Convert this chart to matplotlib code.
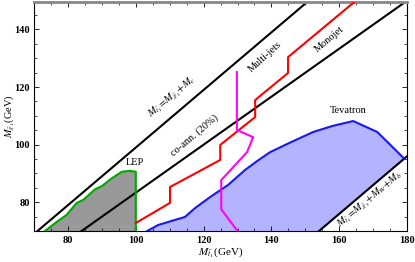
import numpy as np
import matplotlib.pyplot as plt
from matplotlib.ticker import MultipleLocator

plt.rcParams['font.family'] = 'Liberation Serif'
plt.rcParams['mathtext.fontset'] = 'stix'

# LEP excluded region (upper boundary)
lep_x = [73.2, 76.7, 79.6, 82.6, 84.5, 88.0, 90.0, 92.9, 95.9, 98.3, 100.0, 100.0]
lep_y = [70.0, 73.2, 75.6, 79.8, 80.8, 84.5, 85.6, 88.3, 90.6, 90.9, 90.6, 70.0]

# Tevatron boundary
tev_x = [103.3, 106.6, 110.5, 114.5, 117.5, 121.9, 127.2, 132.2, 136.0, 139.6, 146.0, 152.3, 158.0, 164.1, 171.2, 175.0, 179.0]
tev_y = [70.0, 72.1, 73.5, 74.9, 78.0, 81.8, 86.0, 91.2, 94.5, 97.4, 101.0, 104.4, 106.5, 108.2, 104.4, 100.0, 95.3]

# Monojet
mono_x = [100.0, 110.1, 110.1, 124.9, 124.9, 135.2, 135.2, 144.9, 144.9, 164.7]
mono_y = [72.8, 79.8, 85.3, 94.7, 99.9, 109.6, 115.5, 124.9, 130.4, 149.8]

# Multi-jets
multi_x = [129.8, 129.8, 134.6, 132.8, 125.2, 125.2, 130.0]
multi_y = [125.2, 105.1, 102.6, 97.4, 87.7, 77.6, 70.0]

m_c = 1.0
m_wb = 84.0
coann = 0.2

fig = plt.figure(figsize=(4.15, 2.62), dpi=100)
ax = fig.add_axes([0.082, 0.118, 0.899, 0.874])

xx = np.linspace(70, 180, 200)
ax.fill(lep_x, lep_y, color='#999999', zorder=1)
ax.plot(lep_x, lep_y, color='#00aa00', lw=1.5, zorder=3)

# Tevatron fill: boundary then back along the W+b line
x3 = np.linspace(tev_x[-1], m_wb + 70, 20)
ax.fill(tev_x + list(x3) + [tev_x[0]], tev_y + list(x3 - m_wb) + [70],
        color='#b3b3ff', zorder=1)
ax.plot(tev_x, tev_y, color='#1a1aee', lw=1.5, zorder=3)

ax.plot(xx, xx - m_c, color='k', lw=1.5, zorder=2)
ax.plot(xx, xx / (1 + coann), color='k', lw=1.5, zorder=2)
ax.plot(xx, xx - m_wb, color='k', lw=1.5, zorder=2)

ax.plot(mono_x, mono_y, color='#ff0000', lw=1.5, zorder=3)
ax.plot(multi_x, multi_y, color='#ff00ff', lw=1.5, zorder=3)

fs = 7.5
ax.text(110.7, 116.5, r'$M_{\tilde{t}_1}\!=\!M_{\tilde{\chi}_1}\!+\!M_c$', rotation=40,
        ha='center', va='center', fontsize=fs)
ax.text(117.2, 103.3, 'co-ann. (20%)', rotation=40, ha='center', va='center', fontsize=fs)
ax.text(169.1, 80.8, r'$M_{\tilde{t}_1}\!=\!M_{\tilde{\chi}_1}\!+\!M_W\!+\!M_b$', rotation=40,
        ha='center', va='center', fontsize=fs)
ax.text(138.1, 130.4, 'Multi-jets', rotation=42, ha='center', va='center', fontsize=fs)
ax.text(157.0, 136.7, 'Monojet', rotation=40, ha='center', va='center', fontsize=fs)
ax.text(99.8, 93.8, 'LEP', ha='center', va='center', fontsize=fs)
ax.text(162.6, 111.7, 'Tevatron', ha='center', va='center', fontsize=fs)

ax.set_xlim(70, 180)
ax.set_ylim(70, 149.5)
ax.xaxis.set_major_locator(MultipleLocator(20))
ax.yaxis.set_major_locator(MultipleLocator(20))
ax.xaxis.set_minor_locator(MultipleLocator(5))
ax.yaxis.set_minor_locator(MultipleLocator(5))
ax.tick_params(which='both', direction='in', top=True, right=True, labelsize=7.5)
ax.tick_params(which='major', length=3.5, width=0.6)
ax.tick_params(which='minor', length=2, width=0.5)
ax.tick_params(axis='y', pad=3)
for lab in ax.get_xticklabels() + ax.get_yticklabels():
    lab.set_fontweight('bold')
ax.spines['top'].set_color('#888888')
ax.spines['top'].set_linewidth(2)

ax.set_xlabel(r'$M_{\tilde{t}_1}$(GeV)', fontsize=8, labelpad=1)
ax.set_ylabel(r'$M_{\tilde{\chi}_1}$(GeV)', fontsize=7.5)
ax.yaxis.set_label_coords(-0.045, 0.5)

fig.savefig('out.png', dpi=100)
